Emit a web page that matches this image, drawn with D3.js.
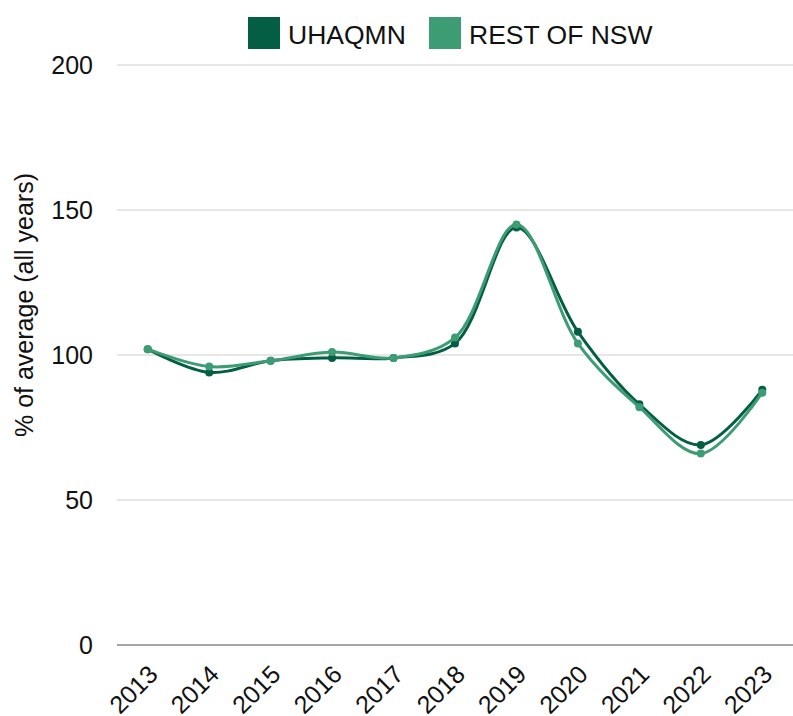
<!DOCTYPE html>
<html>
<head>
<meta charset="UTF-8">
<title>UHAQMN vs rest of NSW</title>
<script src="https://cdn.jsdelivr.net/npm/d3@7"></script>
<style>
  body { margin: 0; background: #fff; font-family: "Liberation Sans", Arial, sans-serif; }
  .grid line { stroke: #cfcfcf; stroke-width: 1; }
  .axis text { fill: #111; }
</style>
</head>
<body>
<div id="chart"></div>
<script>
// data
var years = ["2013","2014","2015","2016","2017","2018","2019","2020","2021","2022","2023"];
var uhaqmn = [102, 94, 98, 99, 99, 104, 144, 108, 83, 69, 88];
var restNsw = [102, 96, 98, 101, 99, 106, 145, 104, 82, 66, 87];
var yTicks = [0, 50, 100, 150, 200];
var seriesNames = ["UHAQMN", "REST OF NSW"];
var seriesColors = ["#045e43", "#3d9c74"];

var width = 793, height = 716;
var margin = {left: 117, right: 0, top: 65, bottom: 71};

var svg = d3.select("#chart").append("svg")
    .attr("width", width)
    .attr("height", height);

var x = d3.scalePoint()
    .domain(years)
    .range([margin.left, width - margin.right])
    .padding(0.5);

var y = d3.scaleLinear()
    .domain([0, 200])
    .range([height - margin.bottom, margin.top]);

// gridlines
svg.append("g").attr("class", "grid")
  .selectAll("line")
  .data(yTicks)
  .enter().append("line")
    .attr("x1", margin.left)
    .attr("x2", width - margin.right)
    .attr("y1", function(d) { return y(d); })
    .attr("y2", function(d) { return y(d); })
    .style("stroke", function(d) { return d === 0 ? "#888" : "#cfcfcf"; })
    .style("stroke-width", function(d) { return d === 0 ? 1.5 : 1; });

// y axis labels
var yAxis = d3.axisLeft(y).tickValues(yTicks).tickSize(0).tickPadding(24);
svg.append("g")
    .attr("class", "axis")
    .attr("transform", "translate(" + margin.left + ",0)")
    .call(yAxis)
    .call(function(g) { g.select(".domain").remove(); })
    .selectAll("text")
      .style("font-size", "25px")
      .style("font-family", "Liberation Sans, Arial, sans-serif");

// x axis labels (rotated, partly cut at the bottom like the original)
var xAxis = d3.axisBottom(x).tickSize(0).tickPadding(0);
svg.append("g")
    .attr("class", "axis")
    .attr("transform", "translate(0," + y(0) + ")")
    .call(xAxis)
    .call(function(g) { g.select(".domain").remove(); })
    .selectAll("text")
      .style("font-size", "25px")
      .style("font-family", "Liberation Sans, Arial, sans-serif")
      .style("text-anchor", "end")
      .attr("dx", "0")
      .attr("dy", "0")
      .attr("transform", "translate(11,31) rotate(-45)");

// y title
svg.append("text")
    .attr("transform", "translate(33," + (y(100) - 50) + ") rotate(-90)")
    .style("text-anchor", "middle")
    .style("font-size", "25px")
    .style("fill", "#111")
    .text("% of average (all years)");

var line = d3.line()
    .x(function(d, i) { return x(years[i]); })
    .y(function(d) { return y(d); })
    .curve(d3.curveCatmullRom.alpha(0.5));

var allSeries = [uhaqmn, restNsw];
allSeries.forEach(function(vals, k) {
  var g = svg.append("g");
  g.append("path")
    .datum(vals)
    .attr("fill", "none")
    .attr("stroke", seriesColors[k])
    .attr("stroke-width", 3)
    .attr("d", line);
  g.selectAll("circle")
    .data(vals)
    .enter().append("circle")
      .attr("cx", function(d, i) { return x(years[i]); })
      .attr("cy", function(d) { return y(d); })
      .attr("r", 4)
      .attr("fill", seriesColors[k]);
});

// legend
var legendX = [248, 429];
var legend = svg.append("g");
seriesNames.forEach(function(name, k) {
  legend.append("rect")
    .attr("x", legendX[k])
    .attr("y", 17)
    .attr("width", 32)
    .attr("height", 32)
    .attr("fill", seriesColors[k]);
  legend.append("text")
    .attr("x", legendX[k] + 40)
    .attr("y", 44)
    .style("font-size", "26.5px")
    .style("fill", "#111")
    .text(name);
});
</script>
</body>
</html>
